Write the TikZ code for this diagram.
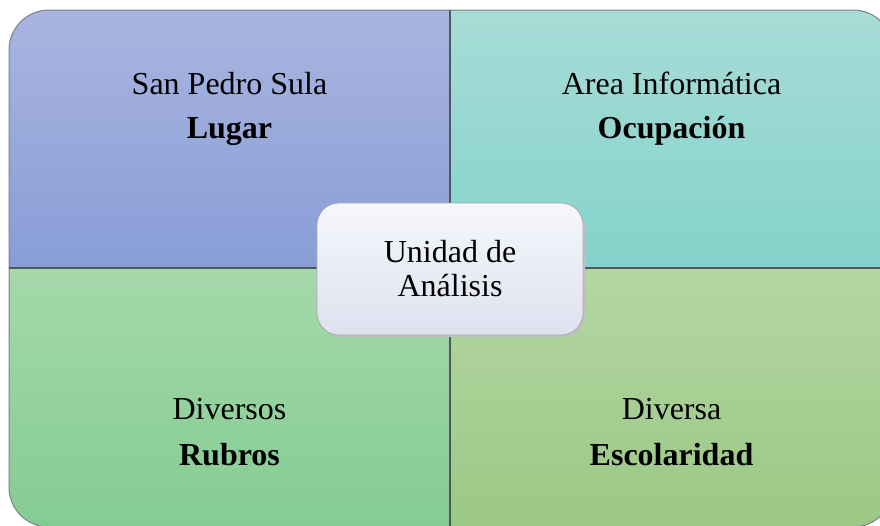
\documentclass[tikz,border=0pt]{standalone}
\usepackage{fontspec}
\setmainfont{Liberation Serif}
\definecolor{tlA}{HTML}{A9B5DF}
\definecolor{tlB}{HTML}{889DD7}
\definecolor{trA}{HTML}{A8DCD7}
\definecolor{trB}{HTML}{84D2CB}
\definecolor{blA}{HTML}{A5D8AA}
\definecolor{blB}{HTML}{84CC92}
\definecolor{brA}{HTML}{B4D6A3}
\definecolor{brB}{HTML}{9BC885}
\definecolor{cA}{HTML}{F6F7FC}
\definecolor{cB}{HTML}{DEE2EF}
\definecolor{edge}{HTML}{6E7378}
\definecolor{divc}{HTML}{4F565E}
\tikzset{
  lbl/.style={anchor=base, font=\fontsize{32}{38}\selectfont, inner sep=0pt},
  lblb/.style={lbl, font=\fontsize{32}{38}\selectfont\bfseries},
  divider/.style={draw=divc, line width=1.4pt},
  centerbox/.style={rounded corners=22pt, draw=edge!60, line width=0.8pt, top color=cA, bottom color=cB}
}
\begin{document}
\begin{tikzpicture}[x=1pt,y=-1pt]
\useasboundingbox (0,0) rectangle (880,525);
\begin{scope}
  \clip (0,0) rectangle (880,525);
  \begin{scope}
    \clip[rounded corners=40pt] (9,10) rectangle (893,527);
    \shade[top color=tlA, bottom color=tlB] (9,10) rectangle (450,268);
    \shade[top color=trA, bottom color=trB] (450,10) rectangle (893,268);
    \shade[top color=blA, bottom color=blB] (9,268) rectangle (450,527);
    \shade[top color=brA, bottom color=brB] (450,268) rectangle (893,527);
  \end{scope}
  \draw[edge!90, line width=1pt, rounded corners=40pt] (9,10) rectangle (893,527);
  \coordinate (vt) at (450,10);
  \coordinate (vb) at (450,527);
  \coordinate (hl) at (9,268);
  \coordinate (hr) at (893,268);
  \draw[divider] (vt) -- (vb);
  \draw[divider] (hl) -- (hr);
\end{scope}
\fill[black!25, rounded corners=22pt] (319,205) rectangle (585,337);
\draw[centerbox] (317,203) rectangle (583,335);
\node[lbl] (c1) at (450,262.7) {Unidad de};
\node[lbl] (c2) at (450,296) {Análisis};
\node[lbl] (tl1) at (229.5,94) {San Pedro Sula};
\node[lblb] (tl2) at (229.5,138) {Lugar};
\node[lbl] (tr1) at (671.5,94) {Area Informática};
\node[lblb] (tr2) at (671.5,138) {Ocupación};
\node[lbl] (bl1) at (229.5,419.5) {Diversos};
\node[lblb] (bl2) at (229.5,465) {Rubros};
\node[lbl] (br1) at (671.5,419.5) {Diversa};
\node[lblb] (br2) at (671.5,465) {Escolaridad};
\end{tikzpicture}
\end{document}
